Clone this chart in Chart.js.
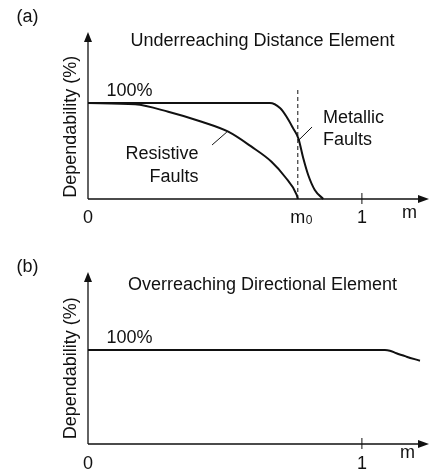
<!DOCTYPE html>
<html>
<head>
<meta charset="utf-8">
<script src="https://cdn.jsdelivr.net/npm/chart.js@4.4.1/dist/chart.umd.min.js"></script>
<style>
  html, body { margin: 0; padding: 0; background: #fff; }
  #wrap { position: relative; width: 429px; height: 472px; overflow: hidden; }
  canvas { position: absolute; left: 0; }
</style>
</head>
<body>
<div id="wrap">
  <canvas id="chartA" width="429" height="236" style="top:0"></canvas>
  <canvas id="chartB" width="429" height="236" style="top:236px"></canvas>
</div>
<script>
// reach setting where the underreaching element stops picking up faults
const M0 = 0.766

// (a) underreaching distance element, dependability (%) against fault location m
const metallicX = [0, 0.664, 0.701, 0.725, 0.749, 0.768, 0.786, 0.804, 0.828, 0.859]
const metallicY = [100, 100, 94.8, 85.7, 73.6, 63.2, 42.4, 25, 9.4, 0]
const resistiveX = [0, 0.172, 0.293, 0.415, 0.512, 0.597, 0.670, 0.719, 0.762, M0]
const resistiveY = [100, 98.6, 90.9, 80.5, 70.1, 54.5, 38.9, 23.2, 4.2, 0]
const reachX = [M0, M0]
const reachY = [0, 115.6]
const metallicLeaderX = [0.770, 0.818]
const metallicLeaderY = [61.5, 75]
const resistiveLeaderX = [0.453, 0.507]
const resistiveLeaderY = [56.3, 69.8]
const ticksA = [0, M0, 1]
const tickLabelsA = ['0', 'm_0', '1']

// (b) overreaching directional element
const directionalX = [0, 1.084, 1.102, 1.126, 1.163, 1.212]
const directionalY = [100, 100, 99.3, 96.5, 92.9, 88.6]
const ticksB = [0, 1]
const tickLabelsB = ['0', '1']

const FONT = '"Liberation Sans", Arial, Helvetica, sans-serif'
const ink = '#111'

let points = (xs, ys) => xs.map((x, i) => ({ x: x, y: ys[i] }))

let curve = (xs, ys) => ({
    data: points(xs, ys),
    borderColor: ink, borderWidth: 2,
    pointRadius: 0, cubicInterpolationMode: 'monotone', clip: false
})

let thin = (xs, ys, dash) => ({
    data: points(xs, ys),
    borderColor: ink, borderWidth: 1, borderDash: dash || [],
    pointRadius: 0, tension: 0, clip: false
})

function drawText(ctx, t) {
    ctx.font = `${t.size || 18}px ${FONT}`
    ctx.textAlign = t.align || 'left'
    ctx.textBaseline = 'alphabetic'
    ctx.fillText(t.text, t.x, t.y)
}

// axes with arrow heads, the tick at m = 1 and all the lettering
let sketchAxes = {
    id: 'sketchAxes',
    afterDatasetsDraw(chart, args, opts) {
        let ctx = chart.ctx
        let xs = chart.scales.x, ys = chart.scales.y
        let x0 = xs.getPixelForValue(0), y0 = ys.getPixelForValue(0)
        let right = chart.chartArea.right, top = chart.chartArea.top

        ctx.save()
        ctx.strokeStyle = ink
        ctx.fillStyle = ink
        ctx.lineWidth = 1.3
        ctx.beginPath()
        ctx.moveTo(x0, y0); ctx.lineTo(right - 8, y0)
        ctx.moveTo(x0, y0); ctx.lineTo(x0, top + 8)
        ctx.stroke()

        ctx.beginPath()
        ctx.moveTo(right, y0); ctx.lineTo(right - 11, y0 - 4); ctx.lineTo(right - 11, y0 + 4); ctx.closePath()
        ctx.moveTo(x0, top); ctx.lineTo(x0 - 4, top + 10); ctx.lineTo(x0 + 4, top + 10); ctx.closePath()
        ctx.fill()

        let x1 = xs.getPixelForValue(1)
        ctx.lineWidth = 1
        ctx.beginPath(); ctx.moveTo(x1, y0 - 6); ctx.lineTo(x1, y0 + 5); ctx.stroke()

        // tick labels, "m_0" gets a subscript
        opts.ticks.forEach((v, i) => {
            let px = xs.getPixelForValue(v)
            let [main, sub] = opts.tickLabels[i].split('_')
            drawText(ctx, { text: main, x: px, y: opts.tickY, align: 'center' })
            if (sub) {
                ctx.font = `18px ${FONT}`
                let w = ctx.measureText(main).width
                drawText(ctx, { text: sub, x: px + w / 2 + 0.5, y: opts.tickY + 1, size: 12 })
            }
        })

        opts.texts.forEach(t => drawText(ctx, t))

        // rotated axis title
        ctx.translate(opts.yTitle.x, opts.yTitle.y)
        ctx.rotate(-Math.PI / 2)
        drawText(ctx, { text: 'Dependability (%)', x: 0, y: 0, align: 'center' })
        ctx.restore()
    }
}

function makeChart(id, datasets, yMax, padding, axesOpts) {
    return new Chart(document.getElementById(id), {
        type: 'line',
        data: { datasets: datasets },
        options: {
            responsive: false,
            animation: false,
            devicePixelRatio: 1,
            layout: { padding: padding },
            scales: {
                x: { type: 'linear', min: 0, max: 1.245, display: false },
                y: { type: 'linear', min: 0, max: yMax, display: false }
            },
            plugins: {
                legend: { display: false },
                tooltip: { enabled: false },
                sketchAxes: axesOpts
            }
        },
        plugins: [sketchAxes]
    })
}

makeChart('chartA', [
    curve(metallicX, metallicY),
    curve(resistiveX, resistiveY),
    thin(reachX, reachY, [4, 3]),
    thin(metallicLeaderX, metallicLeaderY),
    thin(resistiveLeaderX, resistiveLeaderY)
], 174, { left: 88, right: 0, top: 32, bottom: 37 }, {
    ticks: ticksA,
    tickLabels: tickLabelsA,
    tickY: 222.5,
    yTitle: { x: 75.5, y: 126.7 },
    texts: [
        { text: '(a)', x: 16.5, y: 22 },
        { text: 'Underreaching Distance Element', x: 262.5, y: 46, align: 'center' },
        { text: '100%', x: 106.5, y: 95.5 },
        { text: 'Metallic', x: 323, y: 123.3 },
        { text: 'Faults', x: 323, y: 145 },
        { text: 'Resistive', x: 198.5, y: 159.3, align: 'right' },
        { text: 'Faults', x: 198.5, y: 182, align: 'right' },
        { text: 'm', x: 402, y: 217.5 }
    ]
})

makeChart('chartB', [
    curve(directionalX, directionalY)
], 183, { left: 88, right: 0, top: 36, bottom: 28 }, {
    ticks: ticksB,
    tickLabels: tickLabelsB,
    tickY: 233,
    yTitle: { x: 75.5, y: 132.3 },
    texts: [
        { text: '(b)', x: 16.5, y: 36 },
        { text: 'Overreaching Directional Element', x: 262.5, y: 54, align: 'center' },
        { text: '100%', x: 106.5, y: 106.7 },
        { text: 'm', x: 400, y: 222 }
    ]
})
</script>
</body>
</html>
